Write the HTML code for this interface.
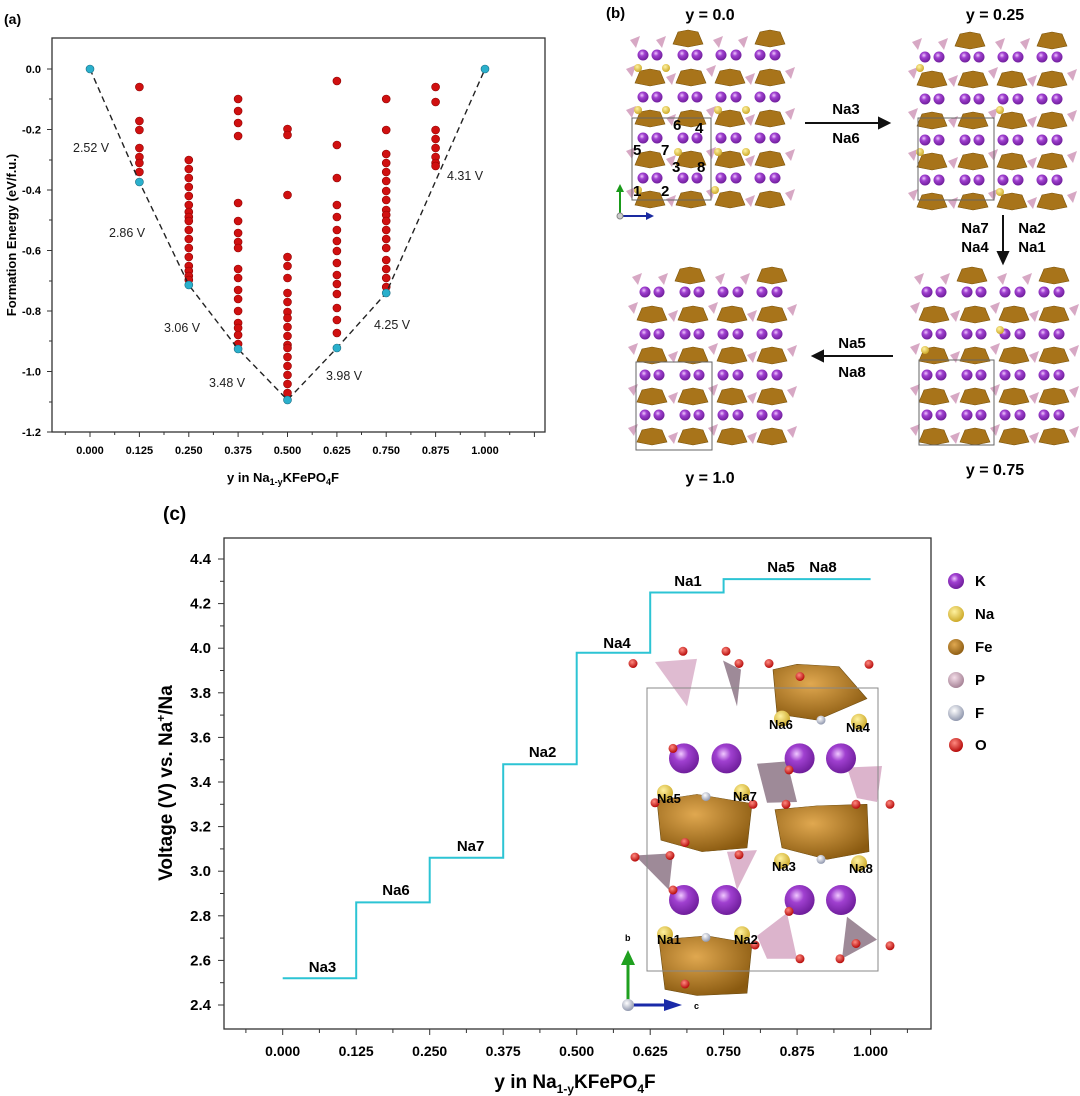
<!DOCTYPE html>
<html><head><meta charset="utf-8"><style>
html,body{margin:0;padding:0;background:#fff;overflow:hidden;}
svg{display:block;font-family:"Liberation Sans",Arial,sans-serif;}
</style></head><body>
<svg width="1080" height="1096" viewBox="0 0 1080 1096" xmlns="http://www.w3.org/2000/svg">
<defs>
<radialGradient id="kg" cx="0.4" cy="0.35" r="0.7"><stop offset="0" stop-color="#f0c8ff"/><stop offset="0.35" stop-color="#a040d0"/><stop offset="1" stop-color="#6a1a96"/></radialGradient>
<radialGradient id="ng" cx="0.4" cy="0.35" r="0.7"><stop offset="0" stop-color="#fff2a0"/><stop offset="1" stop-color="#c9a420"/></radialGradient>
<radialGradient id="og" cx="0.4" cy="0.35" r="0.7"><stop offset="0" stop-color="#ff8a80"/><stop offset="1" stop-color="#b00000"/></radialGradient>
<radialGradient id="fg" cx="0.4" cy="0.35" r="0.7"><stop offset="0" stop-color="#ffffff"/><stop offset="1" stop-color="#8890a8"/></radialGradient>
<radialGradient id="feg" cx="0.4" cy="0.35" r="0.7"><stop offset="0" stop-color="#e0a850"/><stop offset="1" stop-color="#8a5a10"/></radialGradient>
<radialGradient id="pg" cx="0.4" cy="0.35" r="0.7"><stop offset="0" stop-color="#f4dde8"/><stop offset="1" stop-color="#a07c90"/></radialGradient>
<g id="brn"><polygon points="0,14 5,2 15,0 25,2 30,14 15,17" fill="#a8741a" stroke="#7a5208" stroke-width="0.6"/></g>
<g id="pk"><polygon points="0,4 10,0 6,12" fill="#d7a8c4"/></g>
<g id="krow"><circle cx="15" cy="0" r="5.5" fill="url(#kg)"/><circle cx="29" cy="0" r="5.5" fill="url(#kg)"/><circle cx="55" cy="0" r="5.5" fill="url(#kg)"/><circle cx="69" cy="0" r="5.5" fill="url(#kg)"/><circle cx="93" cy="0" r="5.5" fill="url(#kg)"/><circle cx="108" cy="0" r="5.5" fill="url(#kg)"/><circle cx="132" cy="0" r="5.5" fill="url(#kg)"/><circle cx="147" cy="0" r="5.5" fill="url(#kg)"/></g>
<g id="band"><use href="#brn" x="7"/><use href="#brn" x="48"/><use href="#brn" x="87"/><use href="#brn" x="127"/><use href="#pk" x="-2" y="-4"/><use href="#pk" x="38" y="4"/><use href="#pk" x="78" y="-4"/><use href="#pk" x="117" y="4"/><use href="#pk" x="157" y="-2"/></g>
<g id="blk">
<use href="#brn" x="45" y="2"/><use href="#brn" x="127" y="2"/><use href="#pk" x="2" y="8"/><use href="#pk" x="28" y="8"/><use href="#pk" x="85" y="8"/><use href="#pk" x="110" y="8"/>
<use href="#krow" y="27"/><use href="#band" y="41"/><use href="#krow" y="69"/><use href="#band" y="82"/><use href="#krow" y="110"/><use href="#band" y="123"/><use href="#krow" y="150"/><use href="#band" y="163"/>
</g>
</defs>

<!-- ===== Panel (a) ===== -->
<text x="4" y="24" font-size="14" font-weight="bold">(a)</text>
<rect x="52" y="38" width="493" height="394" fill="none" stroke="#333" stroke-width="1.3"/>
<g stroke="#333" stroke-width="1">
<line x1="52" y1="69" x2="47" y2="69"/><line x1="52" y1="129.5" x2="47" y2="129.5"/><line x1="52" y1="190" x2="47" y2="190"/><line x1="52" y1="250.5" x2="47" y2="250.5"/><line x1="52" y1="311" x2="47" y2="311"/><line x1="52" y1="371.5" x2="47" y2="371.5"/><line x1="52" y1="432" x2="47" y2="432"/>
<line x1="52" y1="99" x2="49" y2="99"/><line x1="52" y1="160" x2="49" y2="160"/><line x1="52" y1="220" x2="49" y2="220"/><line x1="52" y1="281" x2="49" y2="281"/><line x1="52" y1="341" x2="49" y2="341"/><line x1="52" y1="402" x2="49" y2="402"/>
<line x1="90" y1="432" x2="90" y2="437"/><line x1="139.4" y1="432" x2="139.4" y2="437"/><line x1="188.8" y1="432" x2="188.8" y2="437"/><line x1="238.1" y1="432" x2="238.1" y2="437"/><line x1="287.5" y1="432" x2="287.5" y2="437"/><line x1="336.9" y1="432" x2="336.9" y2="437"/><line x1="386.2" y1="432" x2="386.2" y2="437"/><line x1="435.6" y1="432" x2="435.6" y2="437"/><line x1="485" y1="432" x2="485" y2="437"/><line x1="534.4" y1="432" x2="534.4" y2="437"/>
<line x1="65.3" y1="432" x2="65.3" y2="435"/><line x1="114.7" y1="432" x2="114.7" y2="435"/><line x1="164" y1="432" x2="164" y2="435"/><line x1="213.4" y1="432" x2="213.4" y2="435"/><line x1="262.8" y1="432" x2="262.8" y2="435"/><line x1="312.2" y1="432" x2="312.2" y2="435"/><line x1="361.5" y1="432" x2="361.5" y2="435"/><line x1="410.9" y1="432" x2="410.9" y2="435"/><line x1="460.3" y1="432" x2="460.3" y2="435"/><line x1="509.7" y1="432" x2="509.7" y2="435"/>
</g>
<g font-size="11" font-weight="bold" text-anchor="end">
<text x="41" y="73">0.0</text><text x="41" y="133.5">-0.2</text><text x="41" y="194">-0.4</text><text x="41" y="254.5">-0.6</text><text x="41" y="315">-0.8</text><text x="41" y="375.5">-1.0</text><text x="41" y="436">-1.2</text>
</g>
<g font-size="11" font-weight="bold" text-anchor="middle">
<text x="90" y="454">0.000</text><text x="139.4" y="454">0.125</text><text x="188.8" y="454">0.250</text><text x="238.1" y="454">0.375</text><text x="287.5" y="454">0.500</text><text x="336.9" y="454">0.625</text><text x="386.2" y="454">0.750</text><text x="435.6" y="454">0.875</text><text x="485" y="454">1.000</text>
</g>
<text x="283" y="482" font-size="13" font-weight="bold" text-anchor="middle">y in Na<tspan font-size="9" dy="3">1-y</tspan><tspan dy="-3">KFePO</tspan><tspan font-size="9" dy="3">4</tspan><tspan dy="-3">F</tspan></text>
<text transform="translate(16,235) rotate(-90)" font-size="13" font-weight="bold" text-anchor="middle">Formation Energy (eV/f.u.)</text>
<g fill="#d01010" stroke="#8a0000" stroke-width="0.6">
<g transform="translate(139.4,0)"><circle cy="87" r="4"/><circle cy="121" r="4"/><circle cy="130" r="4"/><circle cy="148" r="4"/><circle cy="157" r="4"/><circle cy="163" r="4"/><circle cy="172" r="4"/></g>
<g transform="translate(188.8,0)"><circle cy="160" r="4"/><circle cy="169" r="4"/><circle cy="178" r="4"/><circle cy="187" r="4"/><circle cy="196" r="4"/><circle cy="205" r="4"/><circle cy="212" r="4"/><circle cy="217" r="4"/><circle cy="221" r="4"/><circle cy="230" r="4"/><circle cy="239" r="4"/><circle cy="248" r="4"/><circle cy="257" r="4"/><circle cy="266" r="4"/><circle cy="271" r="4"/><circle cy="276" r="4"/><circle cy="280" r="4"/></g>
<g transform="translate(238.1,0)"><circle cy="99" r="4"/><circle cy="111" r="4"/><circle cy="123" r="4"/><circle cy="136" r="4"/><circle cy="203" r="4"/><circle cy="221" r="4"/><circle cy="233" r="4"/><circle cy="242" r="4"/><circle cy="248" r="4"/><circle cy="269" r="4"/><circle cy="278" r="4"/><circle cy="290" r="4"/><circle cy="299" r="4"/><circle cy="311" r="4"/><circle cy="323" r="4"/><circle cy="328" r="4"/><circle cy="335" r="4"/><circle cy="344" r="4"/></g>
<g transform="translate(287.5,0)"><circle cy="129" r="4"/><circle cy="135" r="4"/><circle cy="195" r="4"/><circle cy="257" r="4"/><circle cy="266" r="4"/><circle cy="278" r="4"/><circle cy="293" r="4"/><circle cy="302" r="4"/><circle cy="312" r="4"/><circle cy="318" r="4"/><circle cy="327" r="4"/><circle cy="336" r="4"/><circle cy="345" r="4"/><circle cy="348" r="4"/><circle cy="357" r="4"/><circle cy="366" r="4"/><circle cy="375" r="4"/><circle cy="384" r="4"/><circle cy="393" r="4"/></g>
<g transform="translate(336.9,0)"><circle cy="81" r="4"/><circle cy="145" r="4"/><circle cy="178" r="4"/><circle cy="205" r="4"/><circle cy="217" r="4"/><circle cy="230" r="4"/><circle cy="241" r="4"/><circle cy="251" r="4"/><circle cy="263" r="4"/><circle cy="275" r="4"/><circle cy="284" r="4"/><circle cy="294" r="4"/><circle cy="308" r="4"/><circle cy="320" r="4"/><circle cy="333" r="4"/></g>
<g transform="translate(386.2,0)"><circle cy="99" r="4"/><circle cy="130" r="4"/><circle cy="154" r="4"/><circle cy="163" r="4"/><circle cy="172" r="4"/><circle cy="181" r="4"/><circle cy="191" r="4"/><circle cy="200" r="4"/><circle cy="210" r="4"/><circle cy="215" r="4"/><circle cy="221" r="4"/><circle cy="230" r="4"/><circle cy="239" r="4"/><circle cy="248" r="4"/><circle cy="260" r="4"/><circle cy="269" r="4"/><circle cy="278" r="4"/><circle cy="287" r="4"/></g>
<g transform="translate(435.6,0)"><circle cy="87" r="4"/><circle cy="102" r="4"/><circle cy="130" r="4"/><circle cy="139" r="4"/><circle cy="148" r="4"/><circle cy="157" r="4"/><circle cy="163" r="4"/><circle cy="166" r="4"/></g>
</g>
<polyline points="90,69 139.4,182 188.8,285 238.1,349 287.5,400 336.9,348 386.2,293 485,69" fill="none" stroke="#222" stroke-width="1.4" stroke-dasharray="6,4"/>
<g fill="#2ab0cc" stroke="#1a6a80" stroke-width="0.6">
<circle cx="90" cy="69" r="4"/><circle cx="139.4" cy="182" r="4"/><circle cx="188.8" cy="285" r="4"/><circle cx="238.1" cy="349" r="4"/><circle cx="287.5" cy="400" r="4"/><circle cx="336.9" cy="348" r="4"/><circle cx="386.2" cy="293" r="4"/><circle cx="485" cy="69" r="4"/>
</g>
<g font-size="12.5" fill="#222">
<text x="73" y="152">2.52 V</text><text x="109" y="237">2.86 V</text><text x="164" y="332">3.06 V</text><text x="209" y="387">3.48 V</text><text x="326" y="380">3.98 V</text><text x="374" y="329">4.25 V</text><text x="447" y="180">4.31 V</text>
</g>

<!-- ===== Panel (b) ===== -->
<text x="606" y="18" font-size="15" font-weight="bold">(b)</text>
<g font-size="16" font-weight="bold" text-anchor="middle">
<text x="710" y="20">y = 0.0</text><text x="995" y="20">y = 0.25</text><text x="710" y="483">y = 1.0</text><text x="995" y="475">y = 0.75</text>
</g>
<use href="#blk" x="628" y="28"/>
<use href="#blk" x="910" y="30"/>
<use href="#blk" x="630" y="265"/>
<use href="#blk" x="912" y="265"/>
<g fill="url(#ng)">
<circle cx="638" cy="110" r="4"/><circle cx="666" cy="110" r="4"/><circle cx="718" cy="110" r="4"/><circle cx="746" cy="110" r="4"/><circle cx="638" cy="68" r="4"/><circle cx="666" cy="68" r="4"/><circle cx="678" cy="152" r="4"/><circle cx="718" cy="152" r="4"/><circle cx="746" cy="152" r="4"/><circle cx="638" cy="190" r="4"/><circle cx="715" cy="190" r="4"/>
<circle cx="920" cy="68" r="4"/><circle cx="1000" cy="110" r="4"/><circle cx="920" cy="152" r="4"/><circle cx="1000" cy="192" r="4"/><circle cx="925" cy="350" r="4"/><circle cx="1000" cy="330" r="4"/>
</g>
<g fill="none" stroke="#666" stroke-width="1">
<rect x="632" y="118" width="79" height="82"/><rect x="918" y="118" width="76" height="82"/><rect x="636" y="362" width="76" height="88"/><rect x="919" y="360" width="75" height="85"/>
</g>
<g font-size="15" font-weight="bold">
<text x="673" y="130">6</text><text x="695" y="133">4</text><text x="633" y="155">5</text><text x="661" y="155">7</text><text x="672" y="172">3</text><text x="697" y="172">8</text><text x="633" y="196">1</text><text x="661" y="196">2</text>
</g>
<line x1="620" y1="216" x2="620" y2="190" stroke="#1a9a1a" stroke-width="2"/><polygon points="616,192 624,192 620,184" fill="#1a9a1a"/>
<line x1="620" y1="216" x2="648" y2="216" stroke="#1a2aa0" stroke-width="2"/><polygon points="646,212 646,220 654,216" fill="#1a2aa0"/><circle cx="620" cy="216" r="3" fill="#ccc" stroke="#888"/>
<g stroke="#111" stroke-width="2" fill="#111">
<line x1="805" y1="123" x2="882" y2="123"/><polygon points="879,118 889,123 879,128"/>
<line x1="1003" y1="215" x2="1003" y2="255"/><polygon points="998,252 1008,252 1003,263"/>
<line x1="893" y1="356" x2="820" y2="356"/><polygon points="823,351 813,356 823,361"/>
</g>
<g font-size="15" font-weight="bold" text-anchor="middle">
<text x="846" y="114">Na3</text><text x="846" y="143">Na6</text>
<text x="975" y="233">Na7</text><text x="975" y="252">Na4</text><text x="1032" y="233">Na2</text><text x="1032" y="252">Na1</text>
<text x="852" y="348">Na5</text><text x="852" y="377">Na8</text>
</g>

<!-- ===== Panel (c) ===== -->
<text x="163" y="520" font-size="19" font-weight="bold">(c)</text>
<rect x="224" y="538" width="707" height="491" fill="none" stroke="#333" stroke-width="1.3"/>
<g stroke="#333" stroke-width="1">
<line x1="224" y1="559" x2="218" y2="559"/><line x1="224" y1="603.6" x2="218" y2="603.6"/><line x1="224" y1="648.2" x2="218" y2="648.2"/><line x1="224" y1="692.8" x2="218" y2="692.8"/><line x1="224" y1="737.4" x2="218" y2="737.4"/><line x1="224" y1="782" x2="218" y2="782"/><line x1="224" y1="826.6" x2="218" y2="826.6"/><line x1="224" y1="871.2" x2="218" y2="871.2"/><line x1="224" y1="915.8" x2="218" y2="915.8"/><line x1="224" y1="960.4" x2="218" y2="960.4"/><line x1="224" y1="1005" x2="218" y2="1005"/>
<line x1="224" y1="581.3" x2="220" y2="581.3"/><line x1="224" y1="625.9" x2="220" y2="625.9"/><line x1="224" y1="670.5" x2="220" y2="670.5"/><line x1="224" y1="715.1" x2="220" y2="715.1"/><line x1="224" y1="759.7" x2="220" y2="759.7"/><line x1="224" y1="804.3" x2="220" y2="804.3"/><line x1="224" y1="848.9" x2="220" y2="848.9"/><line x1="224" y1="893.5" x2="220" y2="893.5"/><line x1="224" y1="938.1" x2="220" y2="938.1"/><line x1="224" y1="982.7" x2="220" y2="982.7"/>
<line x1="282.7" y1="1029" x2="282.7" y2="1035"/><line x1="356.2" y1="1029" x2="356.2" y2="1035"/><line x1="429.7" y1="1029" x2="429.7" y2="1035"/><line x1="503.2" y1="1029" x2="503.2" y2="1035"/><line x1="576.7" y1="1029" x2="576.7" y2="1035"/><line x1="650.2" y1="1029" x2="650.2" y2="1035"/><line x1="723.6" y1="1029" x2="723.6" y2="1035"/><line x1="797.1" y1="1029" x2="797.1" y2="1035"/><line x1="870.6" y1="1029" x2="870.6" y2="1035"/>
<line x1="245.9" y1="1029" x2="245.9" y2="1033"/><line x1="319.4" y1="1029" x2="319.4" y2="1033"/><line x1="392.9" y1="1029" x2="392.9" y2="1033"/><line x1="466.4" y1="1029" x2="466.4" y2="1033"/><line x1="539.9" y1="1029" x2="539.9" y2="1033"/><line x1="613.4" y1="1029" x2="613.4" y2="1033"/><line x1="686.9" y1="1029" x2="686.9" y2="1033"/><line x1="760.4" y1="1029" x2="760.4" y2="1033"/><line x1="833.9" y1="1029" x2="833.9" y2="1033"/><line x1="907.4" y1="1029" x2="907.4" y2="1033"/>
</g>
<g font-size="15" font-weight="bold" text-anchor="end">
<text x="211" y="564">4.4</text><text x="211" y="608.6">4.2</text><text x="211" y="653.2">4.0</text><text x="211" y="697.8">3.8</text><text x="211" y="742.4">3.6</text><text x="211" y="787">3.4</text><text x="211" y="831.6">3.2</text><text x="211" y="876.2">3.0</text><text x="211" y="920.8">2.8</text><text x="211" y="965.4">2.6</text><text x="211" y="1010">2.4</text>
</g>
<g font-size="14" font-weight="bold" text-anchor="middle">
<text x="282.7" y="1056">0.000</text><text x="356.2" y="1056">0.125</text><text x="429.7" y="1056">0.250</text><text x="503.2" y="1056">0.375</text><text x="576.7" y="1056">0.500</text><text x="650.2" y="1056">0.625</text><text x="723.6" y="1056">0.750</text><text x="797.1" y="1056">0.875</text><text x="870.6" y="1056">1.000</text>
</g>
<text x="575" y="1088" font-size="19" font-weight="bold" text-anchor="middle">y in Na<tspan font-size="12" dy="5">1-y</tspan><tspan dy="-5">KFePO</tspan><tspan font-size="12" dy="5">4</tspan><tspan dy="-5">F</tspan></text>
<text transform="translate(172,783) rotate(-90)" font-size="19" font-weight="bold" text-anchor="middle">Voltage (V) vs. Na<tspan font-size="12" dy="-7">+</tspan><tspan dy="7">/Na</tspan></text>
<polyline points="282.7,978.2 356.2,978.2 356.2,902.4 429.7,902.4 429.7,857.8 503.2,857.8 503.2,764.2 576.7,764.2 576.7,652.7 650.2,652.7 650.2,592.5 723.6,592.5 723.6,579.1 870.6,579.1" fill="none" stroke="#2cc4d4" stroke-width="2"/>
<g font-size="15" font-weight="bold" text-anchor="middle">
<text x="322.5" y="972">Na3</text><text x="396" y="895">Na6</text><text x="470.6" y="851">Na7</text><text x="542.6" y="757">Na2</text><text x="617" y="648">Na4</text><text x="688" y="586">Na1</text><text x="781" y="572">Na5</text><text x="823" y="572">Na8</text>
</g>
<!-- inset structure -->
<g transform="translate(-3,117.3) scale(1,0.765)">
<polygon points="658,712 700,708 690,770" fill="#dcb4cc" opacity="0.9"/>
<polygon points="726,710 744,722 740,770" fill="#9e8a98"/>
<polygon points="776,722 800,715 842,718 870,760 820,788 780,780" fill="url(#feg)" stroke="#6a4a10" stroke-width="0.6"/>
<polygon points="760,845 790,842 800,895 770,896" fill="#9e8a98"/>
<polygon points="850,850 885,848 880,895 860,890" fill="#dcb4cc"/>
<polygon points="660,893 700,885 755,897 750,955 705,960 664,945" fill="url(#feg)" stroke="#6a4a10" stroke-width="0.6"/>
<polygon points="778,905 820,900 870,898 872,960 830,970 785,955" fill="url(#feg)" stroke="#6a4a10" stroke-width="0.6"/>
<polygon points="638,965 676,962 672,1010" fill="#9e8a98"/>
<polygon points="730,960 760,958 740,1010" fill="#dcb4cc"/>
<polygon points="760,1070 790,1040 800,1100 770,1100" fill="#dcb4cc"/>
<polygon points="850,1045 880,1075 845,1100" fill="#9e8a98"/>
<polygon points="662,1075 710,1070 755,1080 750,1145 700,1148 668,1140" fill="url(#feg)" stroke="#6a4a10" stroke-width="0.6"/>
</g>
<rect x="647" y="688" width="231" height="283" fill="none" stroke="#888" stroke-width="1"/>
<g fill="url(#kg)"><circle cx="684" cy="758.4" r="15"/><circle cx="726.5" cy="758.4" r="15"/><circle cx="799.6" cy="758.4" r="15"/><circle cx="841" cy="758.4" r="15"/><circle cx="684" cy="900" r="15"/><circle cx="726.5" cy="900" r="15"/><circle cx="799.6" cy="900" r="15"/><circle cx="841" cy="900" r="15"/></g>
<g fill="url(#ng)"><circle cx="782" cy="718.6" r="8"/><circle cx="859" cy="721.7" r="8"/><circle cx="665" cy="792.8" r="8"/><circle cx="742" cy="792" r="8"/><circle cx="782" cy="860.9" r="8"/><circle cx="859" cy="863.2" r="8"/><circle cx="665" cy="934.3" r="8"/><circle cx="742" cy="934.3" r="8"/></g>
<g fill="url(#fg)"><circle cx="821" cy="720.1" r="4.5"/><circle cx="706" cy="796.6" r="4.5"/><circle cx="821" cy="859.4" r="4.5"/><circle cx="706" cy="937.4" r="4.5"/></g>
<g fill="url(#og)"><circle cx="633" cy="663.5" r="4.5"/><circle cx="683" cy="651.3" r="4.5"/><circle cx="726" cy="651.3" r="4.5"/><circle cx="739" cy="663.5" r="4.5"/><circle cx="769" cy="663.5" r="4.5"/><circle cx="800" cy="676.5" r="4.5"/><circle cx="869" cy="664.3" r="4.5"/><circle cx="673" cy="748.4" r="4.5"/><circle cx="789" cy="769.9" r="4.5"/><circle cx="655" cy="802.8" r="4.5"/><circle cx="753" cy="804.3" r="4.5"/><circle cx="786" cy="804.3" r="4.5"/><circle cx="856" cy="804.3" r="4.5"/><circle cx="890" cy="804.3" r="4.5"/><circle cx="635" cy="857.1" r="4.5"/><circle cx="670" cy="855.5" r="4.5"/><circle cx="739" cy="854.8" r="4.5"/><circle cx="685" cy="842.5" r="4.5"/><circle cx="673" cy="890" r="4.5"/><circle cx="789" cy="911.4" r="4.5"/><circle cx="755" cy="945" r="4.5"/><circle cx="856" cy="943.5" r="4.5"/><circle cx="890" cy="945.8" r="4.5"/><circle cx="800" cy="958.8" r="4.5"/><circle cx="840" cy="958.8" r="4.5"/><circle cx="685" cy="984" r="4.5"/></g>
<g font-size="13" font-weight="bold">
<text x="769" y="729">Na6</text><text x="846" y="732">Na4</text><text x="657" y="803">Na5</text><text x="733" y="801">Na7</text><text x="772" y="871">Na3</text><text x="849" y="873">Na8</text><text x="657" y="944">Na1</text><text x="734" y="944">Na2</text>
</g>
<line x1="628" y1="1005" x2="628" y2="962" stroke="#1fa01f" stroke-width="3"/><polygon points="621,965 635,965 628,950" fill="#1fa01f"/>
<line x1="628" y1="1005" x2="666" y2="1005" stroke="#1a2aa8" stroke-width="3"/><polygon points="664,999 664,1011 682,1005" fill="#1a2aa8"/>
<circle cx="628" cy="1005" r="6" fill="url(#fg)"/>
<text x="625" y="941" font-size="9" font-weight="bold">b</text><text x="694" y="1009" font-size="9" font-weight="bold">c</text>
<!-- legend -->
<g font-size="15" font-weight="bold">
<circle cx="956" cy="581" r="8" fill="url(#kg)"/><text x="975" y="586">K</text>
<circle cx="956" cy="614" r="8" fill="url(#ng)"/><text x="975" y="619">Na</text>
<circle cx="956" cy="647" r="8" fill="url(#feg)"/><text x="975" y="652">Fe</text>
<circle cx="956" cy="680" r="8" fill="url(#pg)"/><text x="975" y="685">P</text>
<circle cx="956" cy="713" r="8" fill="url(#fg)"/><text x="975" y="718">F</text>
<circle cx="956" cy="745" r="7" fill="url(#og)"/><text x="975" y="750">O</text>
</g>
</svg>
</body></html>
